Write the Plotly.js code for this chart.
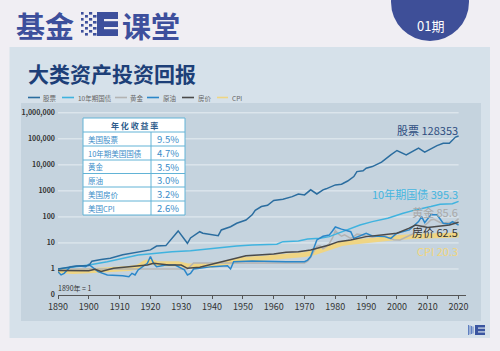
<!DOCTYPE html>
<html><head><meta charset="utf-8">
<script src="https://cdn.plot.ly/plotly-3.0.1.min.js"></script>
<style>html,body{margin:0;padding:0;background:#f0eef3;}#chart{width:500px;height:351px;}</style>
</head><body><div id="chart"></div>
<script>
// ---- data ----
const stockYears = [1890,1893,1896,1900,1901,1904,1907,1911,1916,1920,1922,1925,1929,1932,1933,1936,1937,1942,1943,1946,1948,1951,1953,1954,1956,1958,1960,1961,1963,1966,1968,1970,1972,1974,1976,1977,1980,1982,1984,1986,1987,1989,1990,1992,1995,1998,2000,2003,2007,2009,2013,2015,2017,2019,2020];
const stockVals  = [1.0,1.15,1.3,1.35,2.0,2.3,2.6,3.5,4.6,5.4,7.6,7.9,29,9.7,15.5,27,23.6,19,31.6,42,57,76,120,180,250,280,430,450,480,600,760,700,1100,760,1100,1200,1700,1800,2400,3550,5500,5900,7400,8600,12700,24200,35600,24200,43700,30800,55000,68000,68000,117000,128353];

const bondYears = [1890,1900,1906,1911,1916,1922,1927,1933,1937,1942,1948,1953,1961,1963,1968,1971,1975,1978,1985,1988,1992,1997,2002,2006,2011,2014,2018,2020];
const bondVals  = [1.0,1.42,1.9,2.6,3.45,4.0,4.6,5.0,5.7,6.6,7.7,8.4,8.9,11.2,12,14.3,15.2,17.5,37,49,66,89,139,186,250,309,320,395.3];

const goldYears = [1890,1932,1934,1970,1971,1972,1973,1974,1975,1976,1977,1978,1979,1980,1981,1982,1983,1984,1985,1986,1987,1988,1990,1992,1994,1996,1997,1998,1999,2001,2002,2003,2004,2005,2006,2007,2008,2009,2010,2011,2012,2013,2014,2015,2016,2018,2019,2020];
const goldVals  = [1.0,1.0,1.69,1.69,2.0,2.8,4.7,7.4,7.8,6.0,7.2,9.3,14.9,29.7,22.3,18.1,20.4,17.3,15.0,17.6,21.8,21.0,18.6,16.6,18.7,18.8,16.0,14.2,13.4,13.1,15.0,17.6,19.9,21.6,29.4,33.8,42.3,47.2,59.4,76.0,80.8,68.3,61.3,56.1,60.5,61.6,67.6,85.6];

const oilYears = [1890,1891,1892,1894,1897,1899,1900,1903,1906,1911,1913,1914,1915,1916,1919,1920,1921,1922,1925,1928,1931,1932,1933,1934,1936,1940,1945,1946,1947,1953,1964,1970,1971,1972,1973,1974,1976,1978,1979,1980,1982,1985,1986,1990,1992,1996,1998,2000,2004,2007,2008,2009,2011,2013,2015,2017,2018,2020];
const oilVals  = [0.79,0.59,0.68,1.23,1.3,1.23,1.5,0.79,0.59,0.55,0.5,0.68,0.59,0.92,1.66,3.0,1.66,1.23,1.42,1.42,0.92,0.59,0.68,1.0,1.06,1.23,1.34,1.0,1.9,2.03,1.9,1.9,2.2,3.0,6.2,13,18,20,28,41,34,27,15,23.5,18.6,17.5,15,23.5,31.6,66,103,60,120,120,57,54,66,48];

const houseYears = [1890,1900,1902,1904,1908,1915,1919,1921,1926,1930,1932,1936,1942,1947,1951,1955,1960,1964,1968,1972,1975,1978,1981,1985,1990,1995,2000,2004,2006,2010,2014,2017,2020];
const houseVals  = [0.88,0.86,0.97,0.8,1.06,1.23,1.42,1.66,1.42,1.42,1.06,1.16,1.75,2.6,3.2,3.45,3.8,4.4,4.6,5.4,6.6,8.4,11.2,13,17.5,20.3,23.5,37,49,39,46,49,62.5];

const cpiYears = [1890,1895,1900,1905,1910,1913,1916,1918,1920,1922,1925,1929,1932,1935,1940,1945,1948,1950,1955,1960,1965,1970,1973,1975,1978,1980,1982,1985,1990,1995,2000,2005,2008,2010,2015,2020];
const cpiVals  = [0.85,0.8,0.85,0.9,1.0,1.05,1.2,1.7,2.0,1.6,1.6,1.6,1.3,1.3,1.4,1.75,2.2,2.3,2.5,2.8,3.0,3.6,4.2,5.0,6.2,8.0,9.5,10.5,12.5,14.5,16.0,17.5,18.5,18.8,19.5,20.3];

const seriesNames = ['股票','10年期国债','黄金','原油','房价','CPI'];
const tableLabels = ['美国股票','10年期美国国债','黄金','原油','美国房价','美国CPI'];
const tableValues = ['9.5%','4.7%','3.5%','3.0%','3.2%','2.6%'];
const endLabels = ['股票 128353','10年期国债 395.3','黄金 85.6','房价 62.5','CPI 20.3'];
const xTicks = [1890,1900,1910,1920,1930,1940,1950,1960,1970,1980,1990,2000,2010,2020];
const yTickVals = [0.1,1,10,100,1000,10000,100000,1000000];
const yTickText = ['0','1','10','100','1000','10,000','100,000','1,000,000'];

// ---- layout helpers ----
const L=58, T=105, W=408, H=190;
const X = px => (px-L)/W;
const Y = py => (T+H-py)/H;
const FONT = '"Noto Sans CJK SC", "Noto Sans", sans-serif';

const C = {stock:'#2b6d9f', bond:'#3fb3df', gold:'#b3b3b3', oil:'#2b87c9', house:'#4a4a4a', cpi:'#efd584'};

const traces = [
  {x:cpiYears, y:cpiVals, name:seriesNames[5], mode:'lines', line:{color:C.cpi, width:5}},
  {x:goldYears, y:goldVals, name:seriesNames[2], mode:'lines', line:{color:C.gold, width:1.5}},
  {x:bondYears, y:bondVals, name:seriesNames[1], mode:'lines', line:{color:C.bond, width:1.5}},
  {x:oilYears, y:oilVals, name:seriesNames[3], mode:'lines', line:{color:C.oil, width:1.5}},
  {x:houseYears, y:houseVals, name:seriesNames[4], mode:'lines', line:{color:C.house, width:1.5}},
  {x:stockYears, y:stockVals, name:seriesNames[0], mode:'lines', line:{color:C.stock, width:1.5}}
];

const shapes = [];
const rect = (x0,y0,x1,y1,fill,layer,line) => shapes.push({type:'rect', xref:'paper', yref:'paper', x0:X(x0), x1:X(x1), y0:Y(y1), y1:Y(y0), fillcolor:fill, line:line||{width:0}, layer:layer||'below'});
const hline = (x0,x1,y,color,w,layer) => shapes.push({type:'line', xref:'paper', yref:'paper', x0:X(x0), x1:X(x1), y0:Y(y), y1:Y(y), line:{color:color, width:w}, layer:layer||'below'});
const vline = (x,y0,y1,color,w,layer) => shapes.push({type:'line', xref:'paper', yref:'paper', x0:X(x), x1:X(x), y0:Y(y0), y1:Y(y1), line:{color:color, width:w}, layer:layer||'below'});

// panel + plot region
rect(9.5,47,490,338,'#d6e1ea');
rect(21,103,481,321,'#c5d3de');
// header circle
shapes.push({type:'circle', xref:'paper', yref:'paper', x0:X(391), x1:X(469), y0:Y(41), y1:Y(-37), fillcolor:'#3e4f98', line:{width:0}, layer:'below'});
// header logo: checker + E
const logoC = '#3d4f9c';
for (let c=0;c<4;c++){ for (let r=0;r<8;r++){ if ((r+c)%2===0){ const sx=81+c*4, sy=12+r*3; rect(sx,sy,sx+2.6+c*0.3,sy+2.6,logoC); } } }
rect(97,12,118,36,logoC);
rect(104,19,118,21.2,'#f0eef3');
rect(104,27,118,29.2,'#f0eef3');
// bottom-right small logo
for (let i=0;i<4;i++){ rect(468+i*1.5,325+i*0.5,469+i*1.5,335-i*0.5,'#5f7fc0'); }
rect(475,325,485,335,'#3a55a0');
rect(478,327.5,485,328.7,'#d6e1ea');
rect(478,331.3,485,332.5,'#d6e1ea');
// gridlines at each decade
for (let k=0;k<=6;k++){ const v = Math.pow(10,k); shapes.push({type:'line', xref:'x', yref:'y', x0:1890, x1:2020, y0:v, y1:v, line:{color:'#e6edf2', width:1}, layer:'below'}); }
// legend samples
const legX = [[28,40,C.stock],[62,74,C.bond],[115,127,C.gold],[147,159,C.oil],[182,194,C.house],[217,228,C.cpi]];
legX.forEach(l => hline(l[0],l[1],97.5,l[2],1.6));
// table
const tb = '#62b3d6';
rect(83,118,185,215,'#ffffff','above',{color:tb,width:1});
[132,146,160,173.5,187,201].forEach(y => hline(83,185,y,tb,1,'above'));
vline(151,132,215,tb,1,'above');

const annotations = [];
const ann = (text,x,y,opts) => annotations.push(Object.assign({text:text, x:X(x), y:Y(y), xref:'paper', yref:'paper', showarrow:false, font:{family:FONT, size:10, color:'#333'}, xanchor:'left', yanchor:'middle'}, opts||{}));
ann('基金',14,25,{font:{family:FONT,size:29,color:logoC,weight:'bold'}});
ann('课堂',120,25,{font:{family:FONT,size:29,color:logoC,weight:'bold'}});
ann('01期',430,25,{xanchor:'center',font:{family:FONT,size:13,color:'#ffffff'}});
ann('大类资产投资回报',26,73,{font:{family:FONT,size:21,color:'#1d3f78',weight:'bold'}});
const legTxt = [[41,seriesNames[0]],[76,seriesNames[1]],[128,seriesNames[2]],[161,seriesNames[3]],[196,seriesNames[4]],[230,seriesNames[5]]];
legTxt.forEach(t => ann(t[1],t[0],97.5,{font:{family:FONT,size:6.5,color:'#666'}}));
ann('年 化 收 益 率',134,125,{xanchor:'center',font:{family:FONT,size:8,color:'#2f5d8c',weight:'bold'}});
const rowY = [139,153,166.7,180.3,194,208];
tableLabels.forEach((t,i) => ann(t,86,rowY[i],{font:{family:FONT,size:7.5,color:'#3a8cc8'}}));
tableValues.forEach((t,i) => ann(t,168,rowY[i],{xanchor:'center',font:{family:FONT,size:9.5,color:'#3a8cc8'}}));
ann('1890年 = 1',56,288,{font:{family:FONT,size:7,color:'#333'}});
const endY = [130,194,212,232,251];
const endC = ['#2d4d7e','#46b6e0','#a9a9a9','#333333','#f1d67c'];
endLabels.forEach((t,i) => ann(t,459.5,endY[i],{xanchor:'right',font:{family:FONT,size:11,color:endC[i]}}));

const layout = {
  width:500, height:351,
  margin:{l:L, r:500-L-W, t:T, b:351-T-H, pad:0},
  paper_bgcolor:'#f0eef3', plot_bgcolor:'rgba(0,0,0,0)',
  showlegend:false,
  font:{family:FONT},
  xaxis:{range:[1890,2022.4], tickvals:xTicks, ticks:'outside', ticklen:3, tickcolor:'#555', showline:true, linecolor:'#555', linewidth:1, showgrid:false, zeroline:false, tickfont:{family:FONT,size:9,color:'#333'}},
  yaxis:{type:'log', range:[-1,6.3], tickvals:yTickVals, ticktext:yTickText, ticks:'', showline:false, showgrid:false, zeroline:false, tickfont:{family:FONT,size:7,color:'#333',weight:'bold'}, ticklabelstandoff:2},
  shapes:shapes, annotations:annotations
};
Plotly.newPlot('chart', traces, layout, {displayModeBar:false, staticPlot:true});
</script></body></html>
